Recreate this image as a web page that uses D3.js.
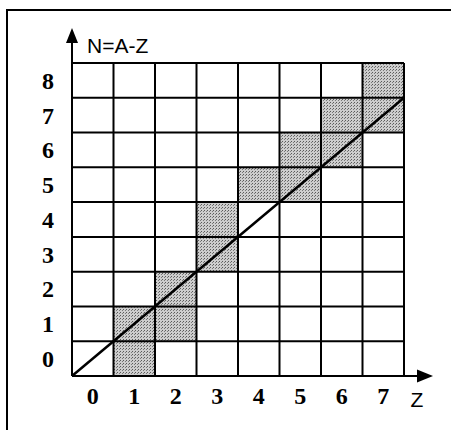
<!DOCTYPE html>
<html>
<head>
<meta charset="utf-8">
<script src="https://cdn.jsdelivr.net/npm/d3@7"></script>
<style>
  body { margin: 0; background: #fff; }
</style>
</head>
<body>
<div id="chart"></div>
<script>
// Chart data
const zTicks = [0, 1, 2, 3, 4, 5, 6, 7];
const nTicks = [0, 1, 2, 3, 4, 5, 6, 7, 8];
// shaded cells as [z, n]
const shadedZ = [1, 1, 2, 2, 3, 3, 4, 5, 5, 6, 6, 7, 7];
const shadedN = [0, 1, 1, 2, 3, 4, 5, 5, 6, 6, 7, 7, 8];
// diagonal line N = Z
const lineZ = [0, 8];
const lineN = [0, 8];

const width = 451;
const height = 430;

const svg = d3
  .select("#chart")
  .append("svg")
  .attr("width", width)
  .attr("height", height);

// stipple pattern for the grey cells
const defs = svg.append("defs");
const pat = defs
  .append("pattern")
  .attr("id", "stipple")
  .attr("width", 3)
  .attr("height", 3)
  .attr("patternUnits", "userSpaceOnUse");
pat.append("rect").attr("width", 3).attr("height", 3).attr("fill", "#cdcdcd");
pat.append("rect").attr("x", 0).attr("y", 0).attr("width", 1).attr("height", 1).attr("fill", "#5a5a5a");
pat.append("rect").attr("x", 2).attr("y", 1).attr("width", 1).attr("height", 1).attr("fill", "#7a7a7a");

// scales: x in column units (0..8), y in row units (0..9)
const x = d3.scaleLinear().domain([0, 8]).range([72, 404]);
const y = d3.scaleLinear().domain([0, 9]).range([376, 63]);
const xBand = d3.scaleBand().domain(zTicks).range([72, 404]);
const yBand = d3.scaleBand().domain(nTicks).range([376, 63]);

// outer frame (top and left edges only visible)
svg.append("path")
  .attr("d", `M7,${height} L7,10 L${width},10`)
  .attr("fill", "none")
  .attr("stroke", "#000")
  .attr("stroke-width", 2);

// shaded cells
const cells = shadedZ.map((z, i) => ({ z: z, n: shadedN[i] }));
svg.selectAll("rect.cell")
  .data(cells)
  .enter()
  .append("rect")
  .attr("class", "cell")
  .attr("x", (d) => xBand(d.z))
  .attr("y", (d) => yBand(d.n))
  .attr("width", xBand.bandwidth())
  .attr("height", yBand.bandwidth())
  .attr("fill", "url(#stipple)");

// grid lines
svg.selectAll("line.vgrid")
  .data(d3.range(0, 9))
  .enter()
  .append("line")
  .attr("class", "vgrid")
  .attr("x1", (d) => x(d))
  .attr("x2", (d) => x(d))
  .attr("y1", y(0))
  .attr("y2", y(9))
  .attr("stroke", "#000")
  .attr("stroke-width", 2);

svg.selectAll("line.hgrid")
  .data(d3.range(0, 10))
  .enter()
  .append("line")
  .attr("class", "hgrid")
  .attr("x1", x(0))
  .attr("x2", x(8))
  .attr("y1", (d) => y(d))
  .attr("y2", (d) => y(d))
  .attr("stroke", "#000")
  .attr("stroke-width", 2);

// diagonal
const diag = lineZ.map((z, i) => [z, lineN[i]]);
svg.append("path")
  .datum(diag)
  .attr("d", d3.line().x((d) => x(d[0])).y((d) => y(d[1])))
  .attr("fill", "none")
  .attr("stroke", "#000")
  .attr("stroke-width", 2.5);

// N axis arrow
svg.append("line")
  .attr("x1", x(0)).attr("x2", x(0))
  .attr("y1", y(9)).attr("y2", 40)
  .attr("stroke", "#000").attr("stroke-width", 2);
svg.append("path")
  .attr("d", `M${x(0)},28 L${x(0) - 6},43 L${x(0) + 6},43 Z`)
  .attr("fill", "#000");

// Z axis arrow
svg.append("line")
  .attr("x1", x(8)).attr("x2", 420)
  .attr("y1", y(0)).attr("y2", y(0))
  .attr("stroke", "#000").attr("stroke-width", 2);
svg.append("path")
  .attr("d", `M433,${y(0)} L417,${y(0) - 6.5} L417,${y(0) + 6.5} Z`)
  .attr("fill", "#000");

// tick labels
svg.selectAll("text.zlab")
  .data(zTicks)
  .enter()
  .append("text")
  .attr("class", "zlab")
  .attr("x", (d) => xBand(d) + xBand.bandwidth() / 2)
  .attr("y", 404)
  .attr("text-anchor", "middle")
  .attr("font-family", "'Liberation Serif', 'Times New Roman', serif")
  .attr("font-weight", "bold")
  .attr("font-size", 24)
  .text((d) => d);

svg.selectAll("text.nlab")
  .data(nTicks)
  .enter()
  .append("text")
  .attr("class", "nlab")
  .attr("x", 48)
  .attr("y", (d) => yBand(d) + yBand.bandwidth() / 2)
  .attr("dy", "0.35em")
  .attr("text-anchor", "middle")
  .attr("font-family", "'Liberation Serif', 'Times New Roman', serif")
  .attr("font-weight", "bold")
  .attr("font-size", 24)
  .text((d) => d);

// axis titles
svg.append("text")
  .attr("x", 87)
  .attr("y", 53)
  .attr("font-family", "'Liberation Sans', Arial, sans-serif")
  .attr("font-size", 21)
  .text("N=A-Z");

svg.append("text")
  .attr("x", 417)
  .attr("y", 407)
  .attr("text-anchor", "middle")
  .attr("font-family", "'Liberation Sans', Arial, sans-serif")
  .attr("font-size", 21)
  .text("Z");
</script>
</body>
</html>
